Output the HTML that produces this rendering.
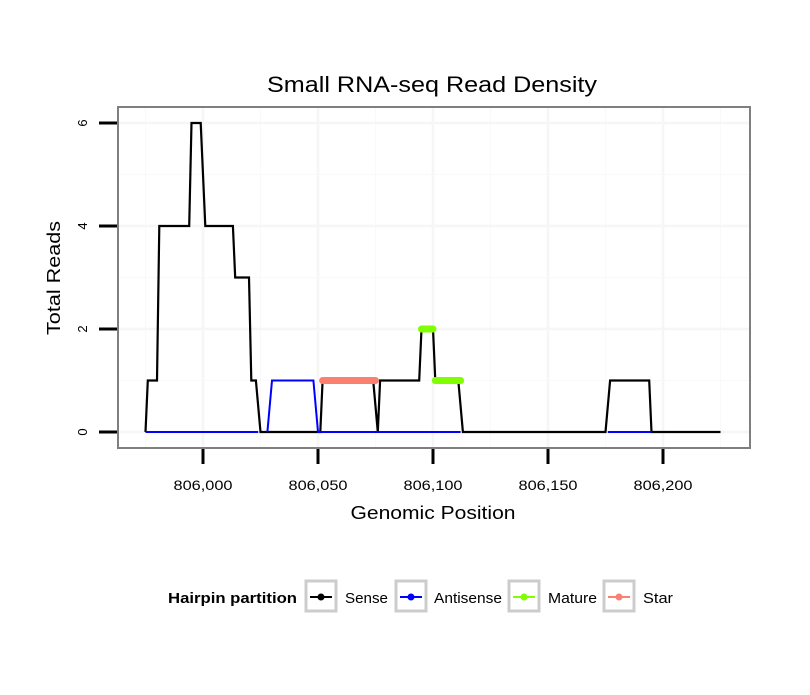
<!DOCTYPE html>
<html><head><meta charset="utf-8"><style>
body{margin:0;background:#fff;font-family:"Liberation Sans",sans-serif;}
</style></head><body>
<svg id="c" width="810" height="690" xmlns="http://www.w3.org/2000/svg">
<text x="432" y="92" font-size="22" text-anchor="middle" textLength="330" lengthAdjust="spacingAndGlyphs">Small RNA-seq Read Density</text>
<rect x="118" y="107" width="632" height="341" fill="#fff" stroke="#7f7f7f" stroke-width="2"/>
<g id="grid"></g><g id="marks"></g><g id="axes"></g>
<text x="433" y="519" font-size="18" text-anchor="middle" textLength="165" lengthAdjust="spacingAndGlyphs">Genomic Position</text>
<text transform="translate(60,278) rotate(-90)" font-size="18" text-anchor="middle" textLength="114" lengthAdjust="spacingAndGlyphs">Total Reads</text>
<g>
<text x="168" y="603" font-size="15" font-weight="bold" textLength="129" lengthAdjust="spacingAndGlyphs">Hairpin partition</text>
<g><rect x="306" y="581" width="30" height="30" fill="#fff" stroke="#ccc" stroke-width="3"/><line x1="310" x2="332" y1="597" y2="597" stroke="#000" stroke-width="2"/><circle cx="321" cy="597" r="3.5" fill="#000"/><text x="345" y="603" font-size="15" textLength="43" lengthAdjust="spacingAndGlyphs">Sense</text></g>
<g><rect x="396" y="581" width="30" height="30" fill="#fff" stroke="#ccc" stroke-width="3"/><line x1="400" x2="422" y1="597" y2="597" stroke="#00f" stroke-width="2"/><circle cx="411" cy="597" r="3.5" fill="#00f"/><text x="434" y="603" font-size="15" textLength="68" lengthAdjust="spacingAndGlyphs">Antisense</text></g>
<g><rect x="509" y="581" width="30" height="30" fill="#fff" stroke="#ccc" stroke-width="3"/><line x1="513" x2="535" y1="597" y2="597" stroke="#7fff00" stroke-width="2"/><circle cx="524" cy="597" r="3.5" fill="#7fff00"/><text x="548" y="603" font-size="15" textLength="49" lengthAdjust="spacingAndGlyphs">Mature</text></g>
<g><rect x="604" y="581" width="30" height="30" fill="#fff" stroke="#ccc" stroke-width="3"/><line x1="608" x2="630" y1="597" y2="597" stroke="#fa8072" stroke-width="2"/><circle cx="619" cy="597" r="3.5" fill="#fa8072"/><text x="643" y="603" font-size="15" textLength="30" lengthAdjust="spacingAndGlyphs">Star</text></g>
</g>
</svg>
<script>
const xTicks=[806000,806050,806100,806150,806200];
const xTickLabels=["806,000","806,050","806,100","806,150","806,200"];
const yTicks=[0,2,4,6];
const senseX=[805975,805976,805980,805981,805994,805995,805999,806001,806013,806014,806020,806021,806023,806025,806051,806052,806074,806076,806077,806094,806095,806100,806101,806111,806113,806175,806177,806194,806195,806225];
const senseY=[0,1,1,4,4,6,6,4,4,3,3,1,1,0,0,1,1,0,1,1,2,2,1,1,0,0,1,1,0,0];
const antiSegsX=[[805975,806024],[806028,806030,806048,806050,806112],[806176,806195]];
const antiSegsY=[[0,0],[0,1,1,0,0],[0,0]];
const matureX=[[806095,806100],[806101,806112]];
const matureY=[[2,2],[1,1]];
const starX=[[806052,806075]];
const starY=[[1,1]];
const X=v=>203+(v-806000)*2.3;
const Y=v=>432-v*51.5;
const NS="http://www.w3.org/2000/svg";
function mk(t,a,p){const e=document.createElementNS(NS,t);for(const k in a)e.setAttribute(k,a[k]);p.appendChild(e);return e;}
const grid=document.getElementById('grid'),marks=document.getElementById('marks'),axes=document.getElementById('axes');
const minor=[805975,806025,806075,806125,806175,806225];
minor.forEach(v=>{const l=mk('line',{x1:X(v),x2:X(v),y1:108,y2:447,stroke:'#f9f9f9','stroke-width':1},grid);

});
xTicks.forEach(v=>{const l=mk('line',{x1:X(v),x2:X(v),y1:108,y2:447,stroke:'#f6f6f6','stroke-width':2.5},grid);

});
[1,3,5].forEach(v=>{const l=mk('line',{x1:119,x2:749,y1:Y(v),y2:Y(v),stroke:'#f9f9f9','stroke-width':1},grid);

});
yTicks.forEach(v=>{const l=mk('line',{x1:119,x2:749,y1:Y(v),y2:Y(v),stroke:'#f6f6f6','stroke-width':2.5},grid);

});
function path(xs,ys){return xs.map((x,i)=>(i?'L':'M')+X(x)+','+Y(ys[i])).join('');}
let p=mk('path',{d:path(senseX,senseY),fill:'none',stroke:'#000','stroke-width':2.2},marks);


antiSegsX.forEach((xs,i)=>{const q=mk('path',{d:path(xs,antiSegsY[i]),fill:'none',stroke:'#00f','stroke-width':2},marks);

});
starX.forEach((xs,i)=>{const q=mk('path',{d:path(xs,starY[i]),fill:'none',stroke:'#fa8072','stroke-width':7,'stroke-linecap':'round'},marks);

});
matureX.forEach((xs,i)=>{const q=mk('path',{d:path(xs,matureY[i]),fill:'none',stroke:'#7fff00','stroke-width':7,'stroke-linecap':'round'},marks);

});
xTicks.forEach((v,i)=>{const t=mk('line',{x1:X(v),x2:X(v),y1:449,y2:464,stroke:'#000','stroke-width':3},axes);


const s=mk('text',{x:X(v),y:490,'font-size':14,'text-anchor':'middle',textLength:59,lengthAdjust:'spacingAndGlyphs'},axes);s.textContent=xTickLabels[i];

});
yTicks.forEach(v=>{const t=mk('line',{x1:99,x2:117,y1:Y(v),y2:Y(v),stroke:'#000','stroke-width':3},axes);


const s=mk('text',{transform:`translate(87,${Y(v)}) rotate(-90)`,'font-size':13,'text-anchor':'middle'},axes);s.textContent=v;

});
</script>
</body></html>
